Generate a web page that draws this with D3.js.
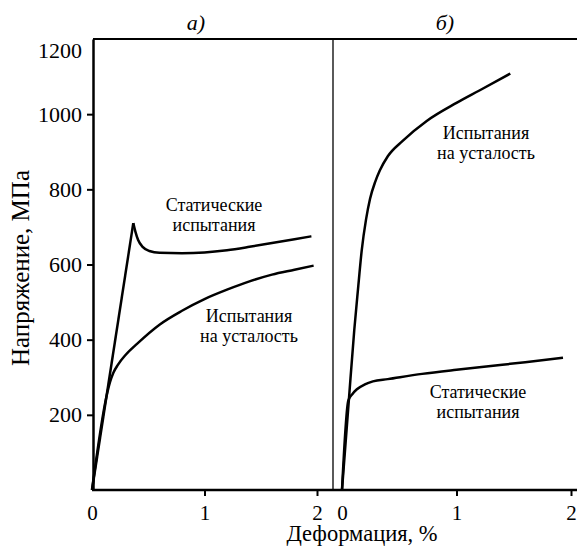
<!DOCTYPE html>
<html>
<head>
<meta charset="utf-8">
<script src="https://cdn.jsdelivr.net/npm/d3@7"></script>
<style>
  body { margin: 0; background: #fff; }
  svg text { font-family: "Liberation Serif", "Times New Roman", serif; fill: #000; }
</style>
</head>
<body>
<svg id="chart" width="577" height="550"></svg>
<script>
// данные (деформация %, напряжение МПа)
const yTicks = [200, 400, 600, 800, 1000];
const xTicks = [0, 1, 2];

// а) статические испытания: упругий участок до зуба текучести, потом площадка
const staticA_rise = [[0, 0], [0.367, 710]];
const staticA_rest = [[0.367, 710], [0.385, 688], [0.41, 665], [0.45, 647], [0.51, 636], [0.6, 631],
  [0.8, 630], [1.0, 632], [1.2, 638], [1.4, 647], [1.6, 657], [1.8, 667], [1.95, 675]];
// а) испытания на усталость
const fatigueA = [[0, 0], [0.13, 251], [0.16, 287], [0.19, 312], [0.23, 333], [0.3, 360], [0.4, 389],
  [0.6, 440], [0.8, 477], [1.0, 508], [1.2, 533], [1.4, 555], [1.6, 573], [1.8, 586], [1.97, 597]];

// б) испытания на усталость
const fatigueB = [[0, 0], [0.06, 240], [0.107, 425], [0.14, 535], [0.172, 637], [0.21, 720], [0.245, 775],
  [0.29, 820], [0.33, 850], [0.4, 888], [0.53, 929], [0.74, 982], [1.0, 1030], [1.2, 1063], [1.47, 1108]];
// б) статические испытания
const staticB = [[0, 0], [0.055, 238], [0.09, 255], [0.13, 268], [0.2, 281], [0.27, 289], [0.4, 295],
  [0.7, 309], [1.0, 320], [1.3, 330], [1.6, 340], [1.93, 352]];

const FONT = "Liberation Serif, Times New Roman, serif";
const svg = d3.select("#chart");

const y = d3.scaleLinear().domain([0, 1200]).range([490, 39]);
const xa = d3.scaleLinear().domain([0, 2]).range([92, 317]);
const xb = d3.scaleLinear().domain([0, 2]).range([342, 571]);

const plotLeft = 93, plotTop = y(1200), plotBottom = y(0), divider = 333;

// рамка
svg.append("line")
  .attr("x1", plotLeft).attr("x2", 577).attr("y1", plotTop).attr("y2", plotTop)
  .attr("stroke", "#000").attr("stroke-width", 2);
svg.append("line")
  .attr("x1", divider).attr("x2", divider).attr("y1", plotTop).attr("y2", plotBottom)
  .attr("stroke", "#000").attr("stroke-width", 1.3);

// ось Y
const yAxis = svg.append("g")
  .attr("transform", "translate(" + plotLeft + ",0)")
  .call(d3.axisLeft(y).tickValues(yTicks).tickFormat(d3.format("d"))
    .tickSize(6).tickSizeOuter(0).tickPadding(5));
yAxis.attr("font-family", FONT);
yAxis.select(".domain").attr("stroke-width", 2.5);
yAxis.selectAll(".tick line").attr("stroke-width", 2);
yAxis.selectAll("text").attr("font-size", 22).attr("fill", "#000");

svg.append("text")
  .attr("x", 82).attr("y", y(1200) + 19)
  .attr("text-anchor", "end").attr("font-size", 22)
  .text("1200");

// ось X
svg.append("line")
  .attr("x1", plotLeft - 1).attr("x2", 577).attr("y1", plotBottom).attr("y2", plotBottom)
  .attr("stroke", "#000").attr("stroke-width", 2.5);

[xa, xb].forEach(function(sc) {
  const g = svg.append("g")
    .attr("transform", "translate(0," + plotBottom + ")")
    .call(d3.axisBottom(sc).tickValues(xTicks).tickFormat(d3.format("d")).tickSize(6).tickPadding(9));
  g.attr("font-family", FONT);
  g.select(".domain").remove();
  g.selectAll(".tick line").attr("stroke-width", 2)
    .filter(function(d) { return d === 0; }).remove();
  g.selectAll("text").attr("font-size", 21).attr("fill", "#000");
});

svg.append("text")
  .attr("x", 362).attr("y", 541)
  .attr("text-anchor", "middle").attr("font-size", 22.5)
  .text("Деформация, %");

svg.append("text")
  .attr("transform", "translate(29,268) rotate(-90)")
  .attr("text-anchor", "middle").attr("font-size", 25)
  .text("Напряжение, МПа");

// подписи панелей
svg.append("text").attr("x", 196).attr("y", 30).attr("text-anchor", "middle")
  .attr("font-size", 22).attr("font-style", "italic").text("а)");
svg.append("text").attr("x", 445).attr("y", 30).attr("text-anchor", "middle")
  .attr("font-size", 22).attr("font-style", "italic").text("б)");

// кривые
function drawCurve(data, sx, curve) {
  const line = d3.line()
    .x(function(d) { return sx(d[0]); })
    .y(function(d) { return y(d[1]); })
    .curve(curve);
  svg.append("path")
    .datum(data)
    .attr("d", line)
    .attr("fill", "none")
    .attr("stroke", "#000")
    .attr("stroke-width", 2.5)
    .attr("stroke-linejoin", "round");
}

drawCurve(staticA_rise, xa, d3.curveLinear);
drawCurve(staticA_rest, xa, d3.curveMonotoneX);
drawCurve(fatigueA, xa, d3.curveMonotoneX);
drawCurve(fatigueB, xb, d3.curveMonotoneX);
drawCurve(staticB, xb, d3.curveMonotoneX);

// подписи кривых
function label(x0, y0, lines) {
  const t = svg.append("text").attr("text-anchor", "middle").attr("font-size", 18);
  lines.forEach(function(s, i) {
    t.append("tspan").attr("x", x0).attr("y", y0 + i * 19.5).text(s);
  });
}
label(214, 211, ["Статические", "испытания"]);
label(249, 322, ["Испытания", "на усталость"]);
label(486, 139, ["Испытания", "на усталость"]);
label(478, 398, ["Статические", "испытания"]);
</script>
</body>
</html>
